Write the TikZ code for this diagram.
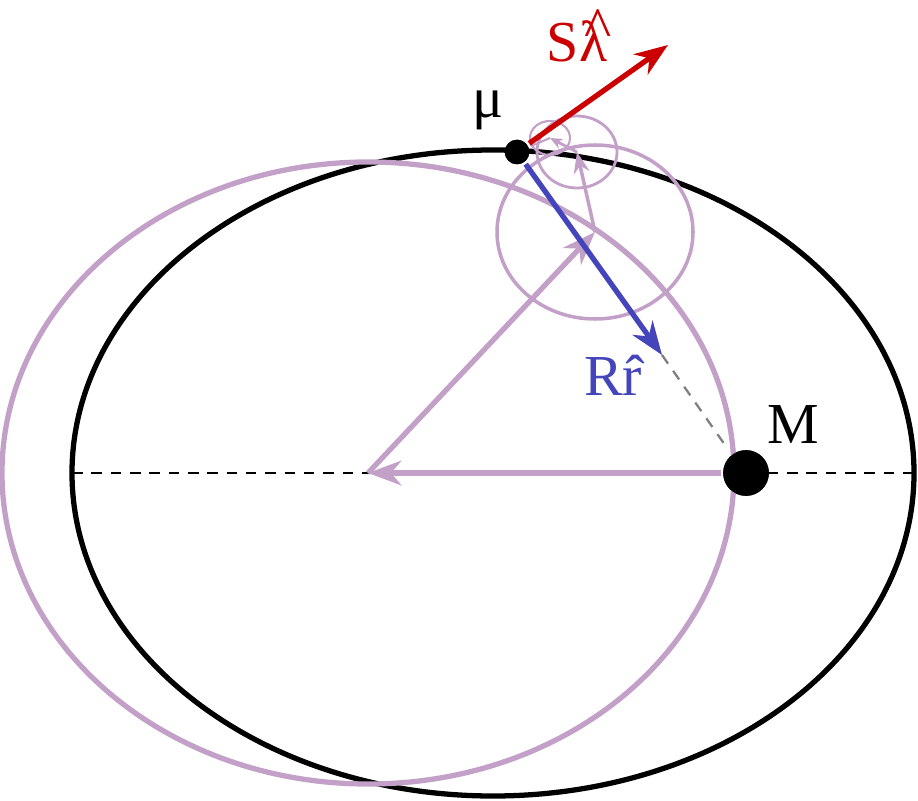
\documentclass[tikz,border=0pt]{standalone}
\usepackage{fontspec}
\setmainfont{Liberation Serif}
\usetikzlibrary{arrows.meta}
\definecolor{orbit}{RGB}{195,160,200}
\definecolor{spin}{RGB}{204,0,0}
\definecolor{radial}{RGB}{68,68,187}
\newcommand{\lamhat}{\makebox[0pt][l]{\raisebox{0.25em}{\kern0.1em\^{}}}λ}
\tikzset{vec/.style={-{Stealth[length=19pt,width=14pt,inset=6pt]}},
  axis/.style={dash pattern=on 6pt off 5pt, line width=1.3pt},
  lbl/.style={font=\fontsize{33}{35}\selectfont, inner sep=0pt}}
\begin{document}
\begin{tikzpicture}[x=0.02cm,y=-0.02cm, line width=3pt]
    \useasboundingbox (0,0) rectangle (918,800);
    \coordinate (C0) at (493,473);
    \coordinate (C1) at (368,473);
    \coordinate (C2) at (595,232);
    \coordinate (C3) at (577,152);
    \coordinate (C4) at (550,138);
    \node[circle, fill, inner sep=0pt, minimum size=26pt] (M) at (746,473) {};
    \node[circle, fill, inner sep=0pt, minimum size=14pt] (mu) at (517,152) {};
    \coordinate (S) at (668,45);
    \coordinate (R) at (662,355);
    \coordinate (Rend) at (725,445);
    % orbits
    \draw[axis] (72,473) -- (914,473);
    \draw (C0) ellipse [x radius=421, y radius=323];
    \draw[orbit] (C1) ellipse [x radius=366, y radius=311];
    \draw[orbit, line width=2pt] (C2) ellipse [x radius=98, y radius=87];
    \draw[orbit, line width=1.6pt] (C3) ellipse [x radius=40, y radius=36];
    \draw[orbit, line width=1.2pt] (C4) ellipse [x radius=20, y radius=17];
    \draw[orbit, vec] (M) -- (C1);
    \draw[orbit, vec] (C1) -- (C2);
    \draw[orbit, line width=2pt, -{Stealth[length=12pt,width=9pt,inset=4pt]}] (C2) -- (C3);
    \draw[orbit, line width=1.6pt, -{Stealth[length=7pt,width=6pt,inset=2pt]}] (C3) -- (C4);
    \draw[orbit, line width=1.2pt] (C4) -- (mu);
    % vectors at mu
    \draw[gray, axis] (R) -- (Rend);
    \draw[radial, vec] (mu) -- (R);
    \draw[spin, vec] (mu) -- (S);
    \node[circle, fill, inner sep=0pt, minimum size=26pt] at (M) {};
    \node[circle, fill, inner sep=0pt, minimum size=14pt] at (mu) {};
    \node[lbl] (Mlbl) at (793,425) {M};
    \node[lbl] (mulbl) at (488,110) {μ};
    \node[lbl, text=spin] (Slbl) at (577,36) {S\lamhat};
    \node[lbl, text=radial] (Rlbl) at (613,375) {Rr̂};
\end{tikzpicture}
\end{document}
